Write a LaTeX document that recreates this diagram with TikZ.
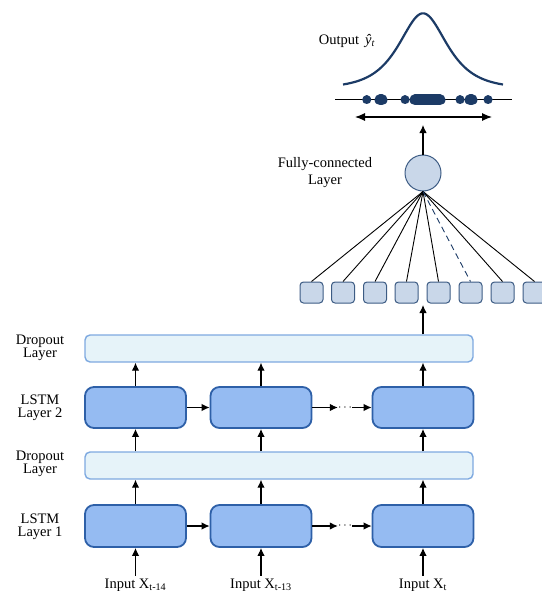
\documentclass[tikz,border=0pt]{standalone}
\usepackage{fontspec}
\setmainfont{Liberation Serif}
\usetikzlibrary{arrows.meta,calc}
\definecolor{lstmfill}{HTML}{95BBF2}
\definecolor{lstmdraw}{HTML}{2E60A8}
\definecolor{dropfill}{HTML}{E6F3F9}
\definecolor{dropdraw}{HTML}{7EA9E0}
\definecolor{sqfill}{HTML}{C9D7E9}
\definecolor{sqdraw}{HTML}{3D5C84}
\definecolor{navy}{HTML}{1C3B66}
\tikzset{
  lstm/.style={draw=lstmdraw,fill=lstmfill,line width=1.8pt,rounded corners=9pt,minimum width=101pt,inner sep=0pt},
  drop/.style={draw=dropdraw,fill=dropfill,line width=1.4pt,rounded corners=5pt,minimum width=388pt,minimum height=27pt,inner sep=0pt},
  sq/.style={draw=sqdraw,fill=sqfill,line width=1pt,rounded corners=3.5pt,minimum width=23pt,minimum height=21pt,inner sep=0pt},
  arr/.style={-{Latex[length=8pt,width=7.5pt]},line width=1.1pt},
  lbl/.style={font=\fontsize{14.5}{15}\selectfont,align=center,inner sep=0pt},
  conn/.style={line width=0.9pt},
}
\begin{document}
\begin{tikzpicture}[x=1pt,y=-1pt]
\useasboundingbox (0,0) rectangle (541,591);
% output distribution
\draw[navy,line width=2.2pt] plot[smooth,domain=-80:80,samples=100] ({423+\x},{88-74.7/cosh(\x/21.3)});
\node[lbl] (out) at (347,41) {Output\hspace{6pt}\textit{ŷ}\textsubscript{\textit{t}}};
\coordinate (nl1) at (335,100);
\coordinate (nl2) at (512,100);
\draw[line width=1pt] (nl1) -- (nl2);
\begin{scope}[navy,line cap=round]
\draw[line width=9pt] (366.7,100) -- (366.8,100);
\draw[line width=11pt] (380,100) -- (382,100);
\draw[line width=9pt] (405,100) -- (405.1,100);
\draw[line width=11pt] (415,100) -- (440,100);
\draw[line width=9pt] (460,100) -- (460.1,100);
\draw[line width=11pt] (470,100) -- (472,100);
\draw[line width=9pt] (488,100) -- (488.1,100);
\end{scope}
\coordinate (da1) at (355,117);
\coordinate (da2) at (492,117);
\draw[{Latex[length=10pt,width=8pt]}-{Latex[length=10pt,width=8pt]},line width=1.1pt] (da1) -- (da2);
\coordinate (dist) at (423,125);
% fully connected
\node[draw=sqdraw,fill=sqfill,line width=1pt,circle,minimum size=36pt,inner sep=0pt] (fc) at (423,173) {};
\node[lbl] (fclbl) at (325,173) {Fully-connected\\[2pt]Layer};
\draw[arr] (fc.north) -- (dist);
\foreach \i/\x in {1/311.5,2/343,3/375,4/406.5,5/438.5,6/470.5,7/502.5,8/534.5}{
  \node[sq] (s\i) at (\x,292.5) {};
}
\foreach \i in {1,2,3,4,5,7,8}{ \draw[conn] (fc.south) -- (s\i.north); }
\draw[conn,navy,dash pattern=on 6pt off 4pt] (fc.south) -- (s6.north);
\coordinate (sqin) at (423,305);
% dropout layers
\node[drop] (d2) at (279,348.5) {};
\node[drop] (d1) at (279,465.5) {};
\draw[arr] (d2.north -| sqin) -- (sqin);
% LSTM layer 2
\node[lstm,minimum height=41pt] (b1) at (135.5,407.5) {};
\node[lstm,minimum height=41pt] (b2) at (261,407.5) {};
\node[lstm,minimum height=41pt] (b3) at (423,407.5) {};
% LSTM layer 1
\node[lstm,minimum height=42pt] (a1) at (135.5,526) {};
\node[lstm,minimum height=42pt] (a2) at (261,526) {};
\node[lstm,minimum height=42pt] (a3) at (423,526) {};
% dots
\node[inner sep=0pt,font=\fontsize{12}{12}\selectfont] (dots1) at (345,526) {$\cdots$};
\node[inner sep=0pt,font=\fontsize{12}{12}\selectfont] (dots2) at (345,407.5) {$\cdots$};
\draw[arr] (a1.east) -- (a2.west);
\draw[arr] (a2.east) -- (dots1.west);
\draw[arr] (dots1.east) -- (a3.west);
\draw[arr] (b1.east) -- (b2.west);
\draw[arr] (b2.east) -- (dots2.west);
\draw[arr] (dots2.east) -- (b3.west);
% vertical arrows
\foreach \n in {1,2,3}{
  \draw[arr] (a\n.north) -- (a\n.north |- d1.south);
  \draw[arr] (d1.north -| a\n) -- (b\n.south);
  \draw[arr] (b\n.north) -- (b\n.north |- d2.south);
}
% inputs
\node[lbl,anchor=base,inner sep=2.5pt] (in1) at (135.5,588) {Input X\textsubscript{t-14}};
\node[lbl,anchor=base,inner sep=2.5pt] (in2) at (261,588) {Input X\textsubscript{t-13}};
\node[lbl,anchor=base,inner sep=2.5pt] (in3) at (423,588) {Input X\textsubscript{t}};
\draw[arr] (in1.north -| a1) -- (a1.south);
\draw[arr] (in2.north -| a2) -- (a2.south);
\draw[arr] (in3.north -| a3) -- (a3.south);
% labels
\node[lbl] (l1) at (40,347.5) {Dropout\\[-2pt]Layer};
\node[lbl] (l2) at (40,407.5) {LSTM\\[-2pt]Layer 2};
\node[lbl] (l3) at (40,464) {Dropout\\[-2pt]Layer};
\node[lbl] (l4) at (40,527) {LSTM\\[-2pt]Layer 1};
\end{tikzpicture}
\end{document}
